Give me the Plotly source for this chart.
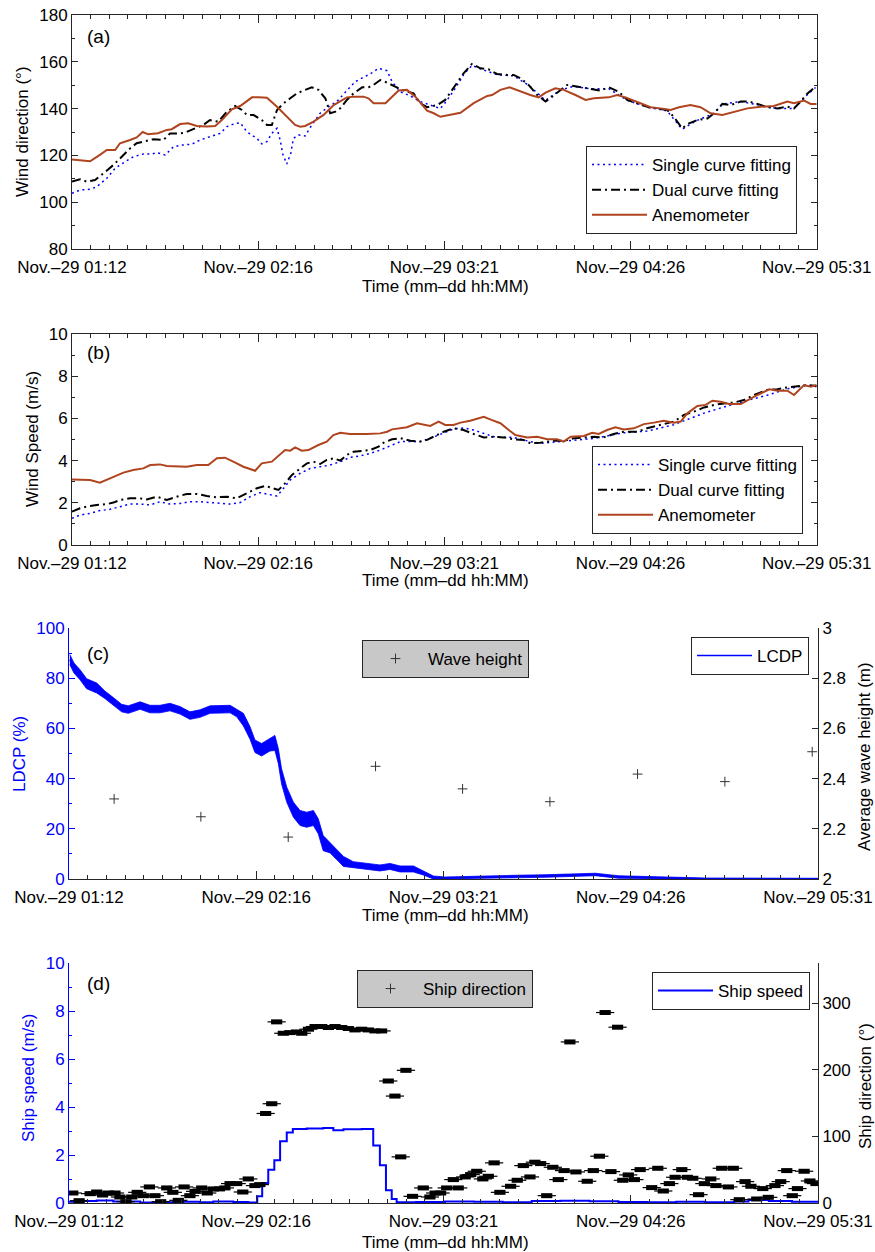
import plotly.graph_objects as go

# ---------------- data (minutes after Nov-29 01:12) ----------------
TIME_TICKS = [0, 64.75, 129.5, 194.25, 259]
TIME_LABELS = ["Nov.–29 01:12", "Nov.–29 02:16", "Nov.–29 03:21", "Nov.–29 04:26", "Nov.–29 05:31"]

# (a) wind direction (deg)
dir_single_t = [0, 2.8, 6.3, 8.6, 12.1, 15.0, 18.5, 21.3, 24.8, 27.7, 29.5, 32.4, 35.3, 38.2, 41.7, 44.6, 48.0, 51.5, 53.9, 56.2,
                58.5, 60.8, 64.3, 66.0, 67.8, 69.5, 71.3, 72.4, 73.3, 74.7, 76.1, 77.0, 78.8, 81.1, 83.4, 86.3, 89.2, 92.1, 95.6, 98.5,
                101.4, 103.7, 106.6, 109.6, 111.3, 114.2, 117.7, 121.1, 124.6, 128.1, 129.8, 132.7, 136.2, 139.1, 142.0, 147.8, 153.6,
                158.8, 164.7, 169.9, 174.5, 180.3, 186.7, 193.1, 200.6, 207.0, 212.2, 217.5, 223.3, 226.2, 232.6, 238.4, 245.3, 251.1,
                255.8, 258.6]
dir_single_v = [103.8, 105.2, 105.5, 106.6, 110.2, 114.5, 117.3, 119.4, 120.6, 120.6, 121.2, 120.2, 123.7, 124.4, 124.8, 126.6,
                128.0, 129.4, 132.3, 133.4, 134.0, 130.1, 127.3, 124.9, 125.9, 129.4, 131.6, 126.6, 120.6, 116.3, 120.9, 127.3,
                128.7, 128.3, 133.0, 138.0, 140.8, 143.0, 147.7, 151.5, 153.4, 154.8, 157.2, 156.2, 151.5, 147.2, 145.4, 143.0,
                141.5, 140.0, 142.5, 147.5, 154.5, 158.5, 157.0, 154.5, 154.0, 150.0, 143.5, 148.0, 149.5, 148.5, 148.5, 143.5,
                140.5, 139.0, 131.2, 135.0, 138.0, 142.0, 143.0, 141.5, 140.0, 140.0, 146.0, 149.0]
dir_dual_t = [0, 2.8, 5.1, 8.0, 10.9, 14.4, 17.3, 20.2, 22.5, 25.4, 28.3, 31.8, 34.1, 37.6, 39.3, 42.8, 45.7, 48.0, 50.9, 53.9,
              56.7, 59.1, 60.8, 63.1, 66.0, 67.8, 69.5, 71.3, 73.6, 75.9, 78.2, 81.1, 83.4, 85.7, 88.1, 89.8, 91.6, 93.3, 95.6,
              97.9, 100.9, 103.1, 104.9, 107.2, 109.6, 112.4, 115.3, 118.8, 121.1, 123.5, 127.0, 129.8, 132.7, 136.2, 139.1, 142.0,
              144.9, 147.8, 151.3, 153.6, 156.0, 158.8, 161.8, 164.7, 167.0, 169.9, 172.2, 174.5, 177.4, 180.3, 183.8, 186.7,
              190.2, 193.1, 196.0, 198.3, 200.6, 203.5, 207.0, 209.3, 212.2, 214.6, 217.5, 221.0, 223.3, 226.2, 229.1, 232.6,
              235.4, 238.4, 241.8, 245.3, 248.8, 251.1, 253.4, 255.8, 258.6]
dir_dual_v = [108.8, 109.8, 108.8, 109.5, 112.3, 115.9, 119.4, 123.0, 125.2, 125.9, 126.9, 126.6, 129.4, 129.4, 129.7, 131.6,
              133.0, 135.1, 134.4, 138.7, 141.1, 139.4, 137.3, 137.3, 135.1, 133.0, 133.0, 139.4, 142.3, 144.4, 146.5, 148.0,
              149.1, 148.0, 144.4, 138.0, 138.7, 140.1, 143.7, 146.5, 149.1, 149.1, 150.1, 152.2, 151.1, 149.4, 147.7, 146.5,
              142.3, 140.6, 141.5, 143.7, 148.7, 155.1, 159.1, 157.2, 156.8, 154.8, 154.4, 154.4, 152.9, 150.1, 145.8, 143.0,
              145.1, 148.0, 150.1, 149.7, 149.1, 148.7, 147.7, 149.1, 147.2, 143.7, 142.3, 141.5, 140.6, 140.1, 139.4, 136.5,
              131.6, 133.7, 135.1, 135.8, 138.0, 142.0, 141.5, 143.0, 143.0, 142.0, 140.6, 140.1, 140.8, 140.1, 143.0, 146.5,
              149.4]
dir_anem_t = [0, 6.3, 9.7, 12.1, 15.0, 16.7, 20.2, 22.5, 24.6, 26.5, 29.9, 33.0, 34.7, 37.6, 40.4, 43.4, 46.9, 49.8, 52.1, 55.6,
              58.5, 62.6, 64.9, 67.8, 71.3, 74.7, 77.6, 79.4, 81.1, 84.0, 87.5, 91.0, 95.6, 97.9, 101.4, 103.1, 104.9, 109.0,
              111.3, 113.6, 116.5, 119.4, 123.5, 125.8, 128.1, 131.6, 135.1, 139.7, 144.4, 146.1, 149.0, 152.2, 156.0, 159.4,
              162.3, 164.7, 168.1, 171.0, 175.1, 178.6, 181.5, 186.7, 189.6, 192.5, 197.7, 201.2, 204.7, 208.2, 211.1, 215.1,
              218.6, 222.1, 226.2, 230.8, 234.9, 239.5, 244.1, 248.8, 251.1, 254.6, 256.9, 259]
dir_anem_v = [118.3, 117.5, 120.2, 122.3, 122.3, 125.2, 126.6, 127.7, 130.0, 129.0, 129.5, 130.9, 131.2, 133.4, 133.7, 132.6,
              132.3, 132.6, 135.1, 139.7, 141.1, 144.8, 144.8, 144.6, 140.8, 136.5, 133.0, 132.3, 132.6, 134.4, 137.3, 141.5,
              144.8, 145.1, 145.1, 144.4, 142.3, 142.3, 145.1, 147.7, 148.0, 145.1, 139.1, 138.0, 136.5, 137.3, 138.2, 142.3,
              145.4, 145.8, 148.0, 149.1, 147.2, 145.8, 144.8, 146.8, 148.7, 148.0, 145.8, 143.7, 144.4, 144.8, 145.8, 144.8,
              142.3, 140.6, 140.1, 139.4, 140.6, 141.5, 140.6, 138.0, 137.3, 138.7, 140.1, 140.8, 141.1, 143.0, 142.3, 143.4,
              142.0, 142.0]

# (b) wind speed (m/s)
spd_single_t = [0, 2.8, 6.3, 9.7, 13.2, 16.7, 20.2, 23.7, 27.2, 30.6, 34.1, 37.6, 41.1, 44.6, 48.0, 51.5, 55.0, 58.5, 62.0,
                65.4, 68.9, 71.3, 73.6, 75.9, 79.4, 82.9, 86.3, 89.8, 93.3, 96.7, 100.2, 103.7, 107.2, 110.7, 114.2, 117.7, 121.1,
                126.4, 132.7, 136.2, 139.7, 146.7, 153.6, 159.4, 162.9, 171.0, 181.5, 191.9, 200.0, 209.3, 219.8, 230.2, 241.8,
                248.8, 255.7, 259]
spd_single_v = [1.26, 1.42, 1.50, 1.63, 1.69, 1.82, 1.94, 1.94, 1.90, 2.05, 1.94, 1.97, 2.05, 2.05, 2.01, 1.97, 1.94, 2.01,
                2.29, 2.48, 2.37, 2.32, 2.69, 3.08, 3.40, 3.63, 3.71, 3.79, 3.95, 4.15, 4.22, 4.34, 4.50, 4.69, 4.90, 4.90, 4.90,
                5.15, 5.50, 5.55, 5.45, 5.13, 5.10, 4.90, 4.82, 4.92, 5.05, 5.32, 5.40, 5.70, 6.25, 6.68, 7.10, 7.40, 7.58, 7.50]
spd_dual_t = [0, 2.8, 5.1, 8.6, 12.1, 14.4, 16.7, 20.2, 23.7, 26.0, 29.5, 33.0, 36.4, 39.9, 43.4, 46.9, 50.4, 53.9, 57.3, 60.8,
              64.3, 67.2, 70.1, 71.8, 74.1, 76.5, 79.4, 81.7, 84.0, 86.3, 88.6, 91.0, 93.3, 95.6, 97.9, 100.9, 103.7, 106.6,
              108.4, 111.3, 114.2, 117.7, 121.1, 123.5, 126.4, 129.3, 132.7, 136.2, 139.7, 143.2, 146.7, 150.1, 153.6, 157.1,
              159.4, 162.9, 167.5, 171.0, 174.5, 178.0, 181.5, 184.9, 188.4, 191.9, 196.6, 200.0, 204.7, 209.3, 212.8, 216.3,
              219.8, 223.3, 226.7, 230.2, 233.7, 237.2, 241.8, 245.3, 248.8, 252.2, 255.7, 259]
spd_dual_v = [1.58, 1.74, 1.82, 1.90, 1.94, 2.01, 2.13, 2.21, 2.21, 2.16, 2.29, 2.13, 2.29, 2.42, 2.42, 2.32, 2.26, 2.29, 2.21,
              2.45, 2.69, 2.80, 2.69, 2.61, 2.92, 3.32, 3.63, 3.87, 3.95, 3.84, 4.03, 4.11, 4.00, 4.27, 4.42, 4.47, 4.50, 4.66,
              4.85, 5.01, 5.06, 4.94, 4.90, 4.98, 5.17, 5.37, 5.53, 5.45, 5.26, 5.10, 5.13, 5.10, 5.01, 4.98, 4.82, 4.85, 4.94,
              4.94, 5.06, 5.10, 5.13, 5.10, 5.26, 5.37, 5.37, 5.53, 5.69, 5.85, 6.16, 6.32, 6.52, 6.64, 6.71, 6.75, 6.87, 7.11,
              7.35, 7.38, 7.47, 7.54, 7.58, 7.54]
spd_anem_t = [0, 6.3, 9.7, 12.1, 15.0, 17.9, 21.3, 24.8, 27.2, 30.6, 33.0, 36.4, 39.9, 43.4, 47.4, 50.4, 53.2, 56.1, 59.6, 63.7,
              66.0, 69.5, 72.4, 74.1, 75.9, 77.6, 79.9, 82.2, 85.7, 88.6, 90.9, 93.3, 96.7, 100.2, 102.6, 107.2, 109.6, 111.3,
              113.6, 116.5, 120.0, 124.6, 127.5, 129.8, 132.7, 135.1, 138.5, 143.2, 146.1, 149.0, 151.9, 154.2, 158.3, 161.8,
              165.3, 168.7, 171.0, 173.4, 178.0, 180.9, 183.2, 186.1, 189.0, 191.9, 195.4, 198.9, 202.4, 205.8, 209.3, 211.7,
              214.0, 217.5, 220.4, 222.7, 225.6, 228.5, 232.6, 236.1, 238.4, 242.5, 245.4, 248.8, 251.1, 254.6, 256.9, 259]
spd_anem_v = [3.11, 3.08, 2.95, 3.08, 3.27, 3.43, 3.55, 3.63, 3.79, 3.82, 3.74, 3.74, 3.71, 3.79, 3.79, 4.11, 4.14, 3.95, 3.71,
              3.52, 3.87, 3.95, 4.27, 4.50, 4.47, 4.63, 4.47, 4.50, 4.74, 4.90, 5.21, 5.32, 5.26, 5.24, 5.26, 5.29, 5.37, 5.48,
              5.53, 5.58, 5.77, 5.64, 5.85, 5.69, 5.69, 5.80, 5.89, 6.08, 5.92, 5.77, 5.45, 5.21, 5.09, 5.13, 5.01, 5.01, 4.90,
              5.13, 5.17, 5.32, 5.26, 5.45, 5.58, 5.48, 5.53, 5.73, 5.80, 5.89, 5.80, 5.85, 6.24, 6.59, 6.64, 6.84, 6.79, 6.68,
              6.68, 6.95, 7.11, 7.38, 7.31, 7.31, 7.11, 7.58, 7.50, 7.58]

# (c) LDCP (%) centre and half-spread of the noisy trace, average wave height (m)
ldcp_t = [0.3, 1.7, 3.8, 6.1, 9.6, 12.4, 15.3, 18.2, 20.5, 24.6, 28.0, 31.5, 34.9, 38.4, 41.8, 45.3, 48.8, 52.2, 55.7, 58.0,
          60.3, 62.6, 64.3, 66.6, 69.5, 71.2, 72.4, 73.5, 75.3, 77.6, 79.9, 82.2, 84.5, 86.2, 87.9, 90.3, 92.6, 94.9, 98.3,
          102.9, 107.5, 111.0, 114.5, 119.1, 122.5, 126.0, 130, 135, 145, 155, 165, 175, 182, 190, 200, 210, 220, 259]
ldcp_v = [87.4, 84.1, 81.4, 77.8, 76.1, 73.4, 70.8, 68.1, 67.5, 69.1, 67.7, 67.7, 68.5, 67.2, 65.1, 65.9, 67.5, 67.7, 67.7,
          66.1, 63.5, 58.2, 52.9, 51.5, 53.5, 54.2, 48.9, 40.9, 33.6, 27.6, 24.3, 23.6, 24.3, 21.0, 14.3, 12.4, 9.7, 7.0, 5.7,
          5.0, 4.4, 5.0, 4.0, 4.0, 2.4, 0.4, 0.3, 0.5, 0.8, 1.0, 1.2, 1.5, 1.8, 0.8, 0.6, 0.3, 0.1, 0.0]
ldcp_spread = [2.0, 2.0, 2.0, 2.0, 2.0, 1.5, 1.5, 1.5, 1.5, 1.5, 1.5, 1.5, 1.5, 1.5, 1.5, 1.5, 1.5, 1.5, 1.5, 1.5,
               2.5, 2.5, 2.5, 2.5, 2.5, 3.0, 3.0, 3.0, 3.0, 3.0, 3.0, 3.0, 3.0, 3.0, 3.0, 2.0, 2.0, 2.0, 1.2, 1.2,
               1.2, 1.2, 1.2, 1.2, 0.8, 0.8, 0.5, 0.5, 0.5, 0.5, 0.5, 0.5, 0.5, 0.5, 0.3, 0.3, 0.3, 0.3]
wave_t = [15.6, 45.6, 75.8, 106.0, 136.1, 166.3, 196.6, 226.8, 257.0]
wave_h = [2.319, 2.248, 2.167, 2.449, 2.359, 2.308, 2.418, 2.388, 2.507]

# (d) ship speed (m/s) and ship direction (deg)
ship_spd_t = [0, 4.9, 9.6, 15.3, 24.6, 31.5, 36.1, 45.3, 49.9, 56.8, 62.0, 65.1, 66.8, 68.9, 71.0, 73.0, 75.3, 77.4, 82.2,
              87.9, 91.4, 94.9, 101.2, 105.2, 107.5, 109.6, 111.6, 113.3, 120, 130, 140, 150, 160, 170, 180, 190, 200, 210,
              220, 230, 235, 242, 250, 259]
ship_spd_v = [0.05, 0.08, 0.10, 0.06, 0.02, 0.03, 0.05, 0.03, 0.06, 0.04, 0.02, 0.28, 0.83, 1.39, 1.78, 2.57, 2.94, 3.08,
              3.10, 3.12, 3.03, 3.07, 3.08, 2.40, 1.57, 0.53, 0.17, 0.03, 0.04, 0.06, 0.05, 0.03, 0.08, 0.09, 0.07, 0.04,
              0.03, 0.05, 0.03, 0.06, 0.12, 0.08, 0.05, 0.05]
ship_dir_t = [1.3, 3.5, 7.3, 9.6, 11.6, 13.6, 15.9, 17.6, 19.7, 21.7, 23.6, 25.7, 27.8, 29.7, 31.7, 33.8, 35.9, 37.8, 39.8,
              41.8, 43.6, 45.9, 47.8, 49.9, 52.0, 53.9, 55.7, 58.0, 60.1, 62.0, 64.3, 66.0, 68.0, 70.1, 71.8, 74.1, 76.4, 78.7,
              80.5, 82.8, 85.1, 87.4, 89.7, 92.0, 94.3, 96.6, 98.9, 101.2, 103.5, 105.8, 108.1, 110.4, 112.7, 114.7, 116.5,
              118.8, 122.5, 124.8, 126.6, 128.5, 130.6, 132.9, 134.6, 137.0, 138.9, 141.0, 143.1, 145.0, 147.0, 149.0, 152.7,
              155.0, 157.1, 159.4, 161.1, 163.1, 165.2, 167.3, 169.2, 171.2, 173.2, 175.3, 179.2, 181.3, 183.4, 185.4, 187.4,
              189.7, 191.5, 193.4, 195.5, 197.5, 201.5, 203.6, 205.5, 207.6, 209.6, 211.9, 213.8, 215.7, 217.7, 219.7, 221.9,
              223.7, 225.7, 228.0, 229.7, 231.8, 233.8, 235.8, 237.8, 239.9, 241.8, 244.1, 246.1, 248.2, 250.1, 251.9, 254.2,
              256.2, 258.3]
ship_dir_v = [15.0, 3.5, 14.0, 16.5, 12.0, 15.0, 15.0, 9.0, 2.0, 9.0, 16.0, 11.0, 24.1, 11.0, 2.0, 22.6, 16.0, 4.0, 24.1,
              11.0, 17.5, 22.6, 15.0, 21.1, 21.1, 22.6, 29.1, 29.1, 16.5, 36.1, 26.1, 27.6, 134.3, 148.9, 271.7, 254.6, 255.6,
              256.6, 254.6, 260.7, 264.7, 264.7, 263.2, 264.7, 263.2, 261.7, 259.6, 260.7, 259.6, 258.1, 258.1, 183.0, 160.4,
              69.2, 199.0, 10.0, 22.6, 9.0, 15.0, 15.0, 22.6, 35.1, 22.6, 39.1, 42.6, 47.6, 36.1, 40.1, 60.2, 16.0, 25.1, 34.1,
              56.1, 39.1, 61.2, 59.1, 11.0, 53.6, 35.1, 48.6, 241.6, 46.6, 32.6, 48.6, 70.2, 285.7, 47.1, 263.7, 34.1, 42.1,
              35.1, 50.1, 23.1, 52.1, 18.0, 29.1, 38.6, 50.1, 38.6, 37.1, 12.5, 29.1, 36.1, 26.1, 52.1, 24.1, 52.1, 5.0, 32.1,
              25.1, 6.0, 21.6, 8.5, 26.1, 32.1, 48.6, 11.0, 21.6, 47.6, 33.1, 29.1]

# ---------------- styling ----------------
W, H = 875, 1252
FAM = "Liberation Sans, Arial, Helvetica, sans-serif"
FS = 17
AX = "#262626"
BLUE = "#0000ff"
BROWN = "#b0441e"


def fx(p):
    return p / W


def fy(p):
    return 1 - p / H


A_X = [fx(72), fx(816.7)]
C_X = [fx(69), fx(818)]
A_Y = [fy(249), fy(15)]
B_Y = [fy(545), fy(334)]
C_Y = [fy(879), fy(628)]
D_Y = [fy(1203), fy(963)]

DOT = "2px,3.5px"
DASHDOT = "9px,4px,2px,4px"

fig = go.Figure()

# (a)
fig.add_trace(go.Scatter(x=dir_single_t, y=dir_single_v, mode="lines", name="Single curve fitting",
                         line=dict(color=BLUE, width=1.5, dash=DOT), xaxis="x", yaxis="y", legend="legend"))
fig.add_trace(go.Scatter(x=dir_dual_t, y=dir_dual_v, mode="lines", name="Dual curve fitting",
                         line=dict(color="black", width=2, dash=DASHDOT), xaxis="x", yaxis="y", legend="legend"))
fig.add_trace(go.Scatter(x=dir_anem_t, y=dir_anem_v, mode="lines", name="Anemometer",
                         line=dict(color=BROWN, width=2), xaxis="x", yaxis="y", legend="legend"))
# (b)
fig.add_trace(go.Scatter(x=spd_single_t, y=spd_single_v, mode="lines", name="Single curve fitting",
                         line=dict(color=BLUE, width=1.5, dash=DOT), xaxis="x2", yaxis="y2", legend="legend2"))
fig.add_trace(go.Scatter(x=spd_dual_t, y=spd_dual_v, mode="lines", name="Dual curve fitting",
                         line=dict(color="black", width=2, dash=DASHDOT), xaxis="x2", yaxis="y2", legend="legend2"))
fig.add_trace(go.Scatter(x=spd_anem_t, y=spd_anem_v, mode="lines", name="Anemometer",
                         line=dict(color=BROWN, width=2), xaxis="x2", yaxis="y2", legend="legend2"))

# (c)
band_hi = [v + s for v, s in zip(ldcp_v, ldcp_spread)]
band_lo = [max(0.0, v - s) for v, s in zip(ldcp_v, ldcp_spread)]
fig.add_trace(go.Scatter(x=ldcp_t + ldcp_t[::-1], y=band_hi + band_lo[::-1], mode="lines", fill="toself",
                         fillcolor=BLUE, line=dict(color=BLUE, width=0.8), showlegend=False,
                         xaxis="x3", yaxis="y3", hoverinfo="skip"))
fig.add_trace(go.Scatter(x=ldcp_t, y=ldcp_v, mode="lines", name="LCDP", line=dict(color=BLUE, width=1.5),
                         xaxis="x3", yaxis="y3", legend="legend3"))
fig.add_trace(go.Scatter(x=wave_t, y=wave_h, mode="markers", name="Wave height",
                         marker=dict(symbol="cross-thin", size=7, color="#333", line=dict(color="#333", width=1)),
                         xaxis="x3", yaxis="y4", legend="legend4"))

# (d)
fig.add_trace(go.Scatter(x=ship_spd_t, y=ship_spd_v, mode="lines", name="Ship speed", line=dict(color=BLUE, width=2, shape="hv"),
                         xaxis="x4", yaxis="y5", legend="legend6"))
fig.add_trace(go.Scatter(x=ship_dir_t, y=ship_dir_v, mode="markers", showlegend=False,
                         marker=dict(symbol="line-ew", size=13, color="black", line=dict(color="black", width=1.2)),
                         xaxis="x4", yaxis="y6", hoverinfo="skip"))
fig.add_trace(go.Scatter(x=ship_dir_t, y=ship_dir_v, mode="markers", showlegend=False,
                         marker=dict(symbol="line-ew", size=8, color="black", line=dict(color="black", width=5)),
                         xaxis="x4", yaxis="y6"))
fig.add_trace(go.Scatter(x=[None], y=[None], mode="markers", name="Ship direction",
                         marker=dict(symbol="cross-thin", size=7, color="#333", line=dict(color="#333", width=1)),
                         xaxis="x4", yaxis="y6", legend="legend5"))

font = dict(family=FAM, size=FS, color="black")


def xax(domain, anchor, mirror):
    return dict(domain=domain, anchor=anchor, range=[0, 259], tickmode="array", tickvals=TIME_TICKS,
                ticktext=TIME_LABELS, ticks="inside", ticklen=8, tickcolor=AX, showline=True, linecolor=AX,
                linewidth=1, mirror="ticks" if mirror else False, showgrid=False, zeroline=False, tickfont=font,
                automargin=False, ticklabelstandoff=3,
                minor=dict(tick0=0, dtick=6.475, ticks="inside", ticklen=4, tickcolor=AX, showgrid=False))


def yax(domain, anchor, rng, dtick, minor_dtick, color=AX, mirror=True, tickcolor_font="black"):
    d = dict(domain=domain, anchor=anchor, range=rng, tick0=0, dtick=dtick, ticks="inside", ticklen=6,
             tickcolor=color, showline=True, linecolor=color, linewidth=1, showgrid=False, zeroline=False,
             tickfont=dict(family=FAM, size=FS, color=tickcolor_font), automargin=False,
             mirror="ticks" if mirror else False)
    if minor_dtick:
        d["minor"] = dict(tick0=0, dtick=minor_dtick, ticks="inside", ticklen=3, tickcolor=color, showgrid=False)
    return d


leg_common = dict(bgcolor="white", bordercolor=AX, borderwidth=1, font=font, itemwidth=55,
                  tracegroupgap=0, orientation="v")

annotations = []


def ann(text, x, y, angle=0, size=FS, color="black"):
    annotations.append(dict(text=text, x=fx(x), y=fy(y), xref="paper", yref="paper", showarrow=False,
                            textangle=angle, font=dict(family=FAM, size=size, color=color),
                            xanchor="center", yanchor="middle"))


for ty in (286, 580, 915, 1242):
    ann("Time (mm–dd hh:MM)", 445, ty)
ann("Wind direction (°)", 22, 132, -90)
ann("Wind Speed (m/s)", 32, 439, -90)
ann("LDCP (%)", 19, 754, -90, color=BLUE)
ann("Average wave height (m)", 864, 757, -90)
ann("Ship speed (m/s)", 28, 1078, -90, color=BLUE)
ann("Ship direction (°)", 865, 1086, -90)
for lab, yy in (("(a)", 36), ("(b)", 353), ("(c)", 653), ("(d)", 983)):
    ann(lab, 98, yy, size=19)

fig.update_layout(
    template="none",
    width=W, height=H, margin=dict(l=0, r=0, t=0, b=0, pad=0, autoexpand=False),
    paper_bgcolor="white", plot_bgcolor="white", font=font, showlegend=True,
    xaxis=xax(A_X, "y", True),
    xaxis2=xax(A_X, "y2", True),
    xaxis3=xax(C_X, "y3", False),
    xaxis4=xax(C_X, "y5", False),
    yaxis=yax(A_Y, "x", [80, 180], 20, 10),
    yaxis2=yax(B_Y, "x2", [0, 10], 2, 1),
    yaxis3=yax(C_Y, "x3", [0, 100], 20, 10, color=BLUE, mirror=False, tickcolor_font=BLUE),
    yaxis4=dict(overlaying="y3", side="right", anchor="x3", range=[2, 3], tick0=2, dtick=0.2, ticks="inside",
                ticklen=6, tickcolor=AX, showline=True, linecolor=AX, showgrid=False, zeroline=False,
                tickfont=font, automargin=False),
    yaxis5=yax(D_Y, "x4", [0, 10], 2, 1, color=BLUE, mirror=False, tickcolor_font=BLUE),
    yaxis6=dict(overlaying="y5", side="right", anchor="x4", range=[0, 360], tickvals=[0, 100, 200, 300],
                ticks="inside", ticklen=6, tickcolor=AX, showline=True, linecolor=AX, showgrid=False,
                zeroline=False, tickfont=font, automargin=False),
    legend=dict(x=fx(797), xanchor="right", y=fy(146), yanchor="top", **leg_common),
    legend2=dict(x=fx(803), xanchor="right", y=fy(446), yanchor="top", **leg_common),
    legend3=dict(x=fx(809), xanchor="right", y=fy(637), yanchor="top", **leg_common),
    legend4=dict(x=fx(362), xanchor="left", y=fy(640), yanchor="top",
                 **{**leg_common, "bgcolor": "#c8c8c8"}),
    legend5=dict(x=fx(357), xanchor="left", y=fy(970), yanchor="top",
                 **{**leg_common, "bgcolor": "#c8c8c8"}),
    legend6=dict(x=fx(810), xanchor="right", y=fy(972), yanchor="top", **leg_common),
    annotations=annotations,
)

fig.write_html("out.html")
